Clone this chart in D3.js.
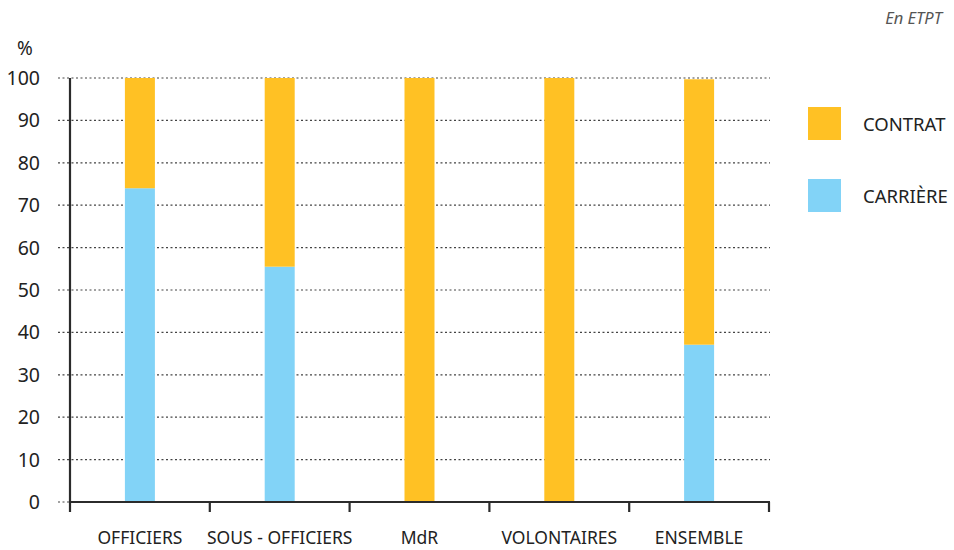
<!DOCTYPE html>
<html><head><meta charset="utf-8">
<script src="https://cdn.jsdelivr.net/npm/d3@7"></script>
<style>body{margin:0;background:#fff}svg{display:block;font-family:"Noto Sans","Open Sans",sans-serif}</style>
</head><body><svg id="c" width="954" height="550"></svg>
<script>
const categories = ["OFFICIERS", "SOUS - OFFICIERS", "MdR", "VOLONTAIRES", "ENSEMBLE"];
const carriere = [74.0, 55.5, 0, 0, 37.1];
const contrat = [26.0, 44.5, 100, 100, 62.6];
const yTicks = [0, 10, 20, 30, 40, 50, 60, 70, 80, 90, 100];
const seriesNames = ["CONTRAT", "CARRIÈRE"];
const colors = {"CONTRAT": "#FFC124", "CARRIÈRE": "#82D3F7"};

const svg = d3.select("#c");
const x = d3.scaleBand().domain(categories).range([70, 769]).paddingInner(0).paddingOuter(0);
const y = d3.scaleLinear().domain([0, 100]).range([502, 78]);
const barW = 30;

// gridlines
svg.append("g").selectAll("line").data(yTicks).join("line")
  .attr("x1", 58).attr("x2", 770)
  .attr("y1", d => y(d)).attr("y2", d => y(d))
  .attr("stroke", "#444").attr("stroke-width", 1.2).attr("stroke-dasharray", "2,2.5");

// bars
const g = svg.append("g");
categories.forEach((c, i) => {
  const cx = x(c) + x.bandwidth() / 2;
  g.append("rect").attr("x", cx - barW / 2).attr("width", barW)
    .attr("y", y(carriere[i])).attr("height", y(0) - y(carriere[i]))
    .attr("fill", colors["CARRIÈRE"]);
  g.append("rect").attr("x", cx - barW / 2).attr("width", barW)
    .attr("y", y(carriere[i] + contrat[i])).attr("height", y(carriere[i]) - y(carriere[i] + contrat[i]))
    .attr("fill", colors["CONTRAT"]);
});

// y axis line
svg.append("line").attr("x1", 70).attr("x2", 70).attr("y1", y(100)).attr("y2", y(0) + 10)
  .attr("stroke", "#2b2b2b").attr("stroke-width", 2.2);
// x axis line
svg.append("line").attr("x1", 69).attr("x2", 770).attr("y1", y(0)).attr("y2", y(0))
  .attr("stroke", "#2b2b2b").attr("stroke-width", 2.2);
// x ticks at band boundaries
const bounds = categories.map(c => x(c)).concat([x.range()[1]]);
svg.append("g").selectAll("line").data(bounds.slice(1)).join("line")
  .attr("x1", d => d).attr("x2", d => d).attr("y1", y(0)).attr("y2", y(0) + 10)
  .attr("stroke", "#2b2b2b").attr("stroke-width", 2.2);

// y tick labels
svg.append("g").selectAll("text").data(yTicks).join("text")
  .attr("x", 40).attr("y", d => y(d)).attr("dy", "0.36em")
  .attr("text-anchor", "end").attr("font-size", 19.5).attr("fill", "#222")
  .text(d => d);
svg.append("text").attr("x", 25).attr("y", 48).attr("text-anchor", "middle")
  .attr("dy", "0.36em").attr("font-size", 19).attr("fill", "#222").text("%");

// category labels
svg.append("g").selectAll("text").data(categories).join("text")
  .attr("x", d => x(d) + x.bandwidth() / 2).attr("y", 538).attr("dy", "0.36em")
  .attr("text-anchor", "middle").attr("font-size", 17.5).attr("fill", "#222")
  .text(d => d);

// note
svg.append("text").attr("x", 942).attr("y", 18).attr("dy", "0.36em")
  .attr("text-anchor", "end").attr("font-size", 16.5).attr("font-style", "italic")
  .attr("fill", "#555").text("En ETPT");

// legend
const leg = svg.append("g");
seriesNames.forEach((s, i) => {
  const ly = 107 + i * 72;
  leg.append("rect").attr("x", 808).attr("y", ly).attr("width", 33).attr("height", 33).attr("fill", colors[s]);
  leg.append("text").attr("x", 863).attr("y", ly + 17).attr("dy", "0.36em")
    .attr("font-size", 18.5).attr("fill", "#222").text(s);
});
</script></body></html>
